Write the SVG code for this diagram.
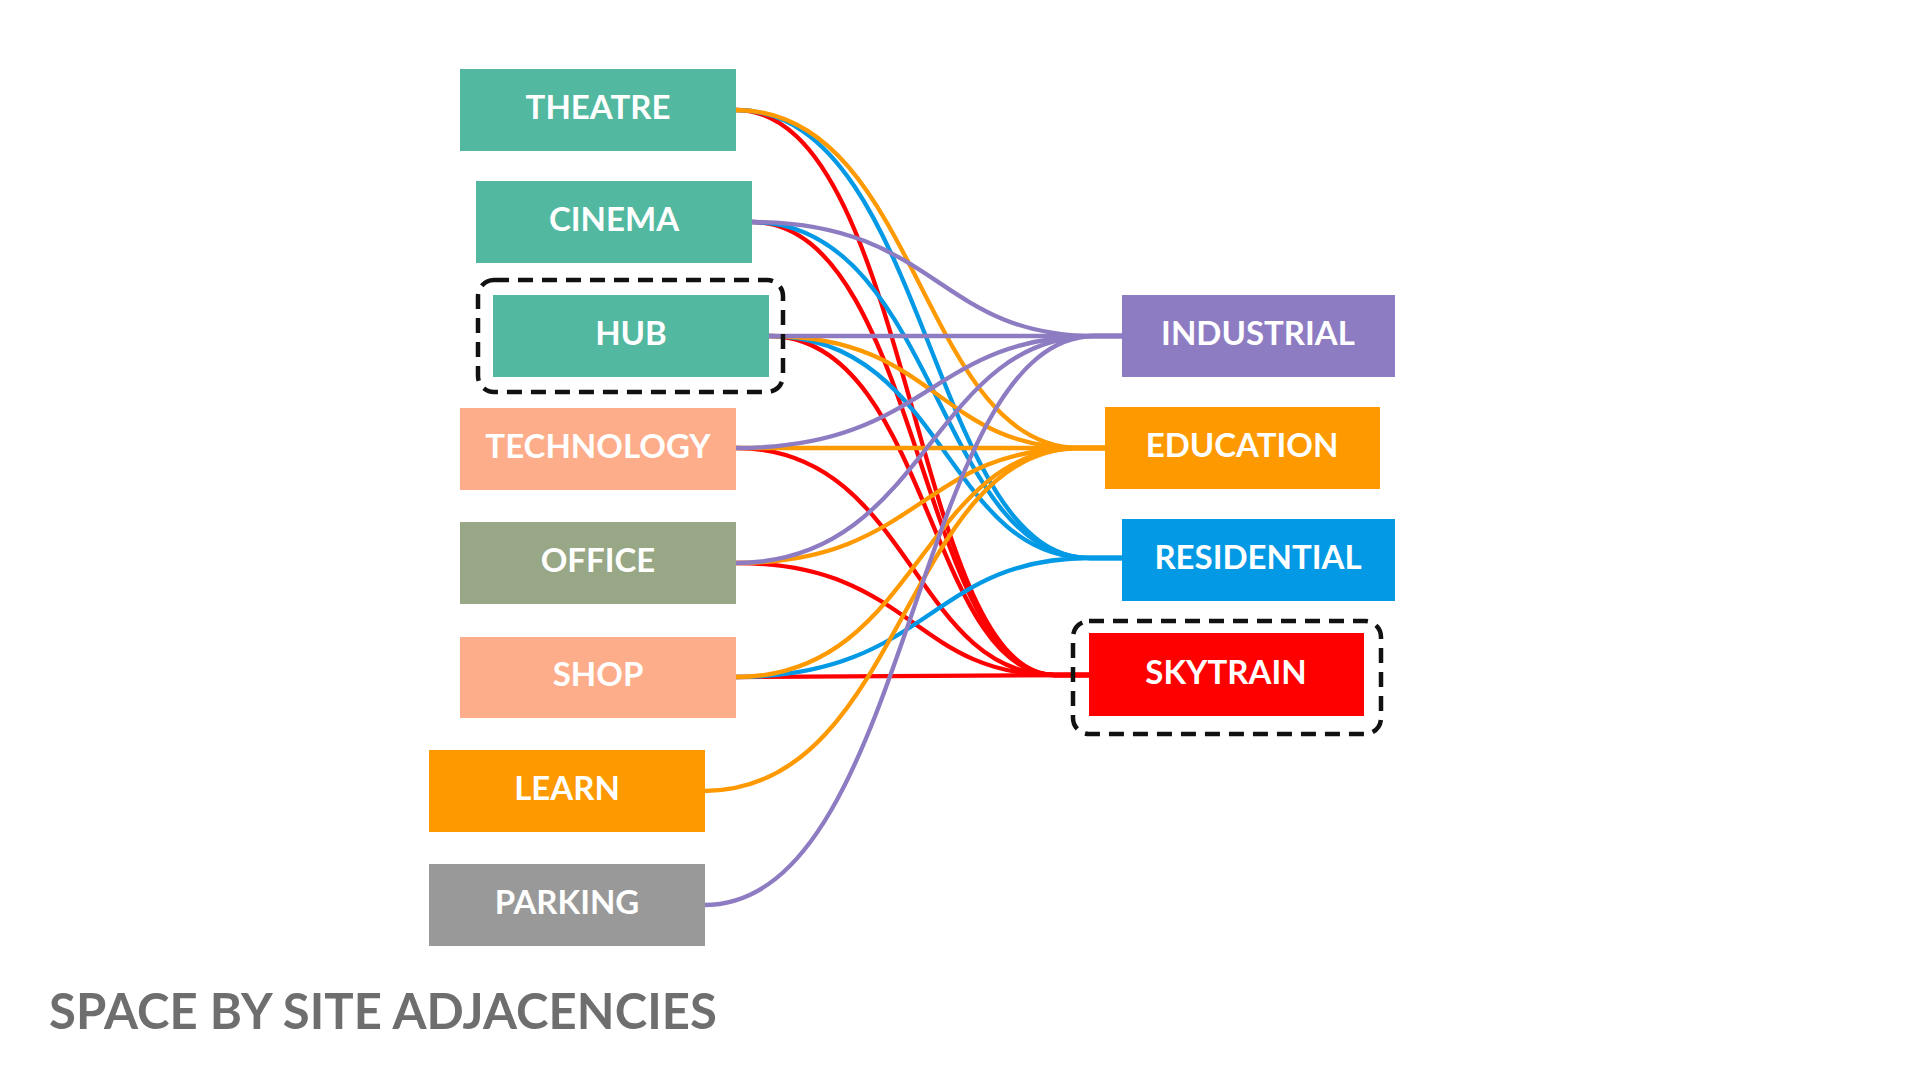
<svg xmlns="http://www.w3.org/2000/svg" width="1920" height="1080" viewBox="0 0 1920 1080">
<style>
.lbl{font-family:Lato,"Open Sans","Liberation Sans",sans-serif;font-weight:700;font-size:33px;fill:#ffffff;text-anchor:middle}
.title{font-family:Lato,"Open Sans","Liberation Sans",sans-serif;font-weight:700;font-size:49px;fill:#6e6e6e}
.dash{fill:none;stroke:#111;stroke-width:4.5;stroke-dasharray:15 9}
.c{fill:none;stroke-width:4.3}
.r{stroke:#ff0000}.b{stroke:#0399e5}.o{stroke:#ff9900}.p{stroke:#8e7cc3}
</style>
<rect width="1920" height="1080" fill="#ffffff"/>
<g id="connectors">
<path class="c r" d="M736 110 C912 110 912 675 1055 675 L1089 675"/>
<path class="c r" d="M752 222 C920 222 920 675 1055 675 L1089 675"/>
<path class="c r" d="M769 336 C929 336 929 675 1055 675 L1089 675"/>
<path class="c r" d="M736 448 C912 448 912 675 1055 675 L1089 675"/>
<path class="c r" d="M736 563 C912 563 912 675 1055 675 L1089 675"/>
<path class="c r" d="M736 677 L1089 675"/>
<path class="c b" d="M736 110 C929 110 929 558 1090 558 L1122 558"/>
<path class="c b" d="M752 222 C937 222 937 558 1090 558 L1122 558"/>
<path class="c b" d="M769 336 C945 336 945 558 1090 558 L1122 558"/>
<path class="c b" d="M736 677 C929 677 929 558 1090 558 L1122 558"/>
<path class="c o" d="M736 110 C920 110 920 448 1080 448 L1105 448"/>
<path class="c o" d="M769 336 C937 336 937 448 1080 448 L1105 448"/>
<path class="c o" d="M736 448 L1105 448"/>
<path class="c o" d="M736 563 C920 563 920 448 1080 448 L1105 448"/>
<path class="c o" d="M736 677 C920 677 920 448 1080 448 L1105 448"/>
<path class="c o" d="M704 791 C904 791 904 448 1080 448 L1105 448"/>
<path class="c p" d="M752 222 C937 222 937 336 1095 336 L1122 336"/>
<path class="c p" d="M769 336 L1122 336"/>
<path class="c p" d="M736 448 C929 448 929 336 1095 336 L1122 336"/>
<path class="c p" d="M736 563 C929 563 929 336 1095 336 L1122 336"/>
<path class="c p" d="M704 905 C913 905 913 336 1095 336 L1122 336"/>
</g>
<g id="node-theatre"><rect x="460" y="69" width="276" height="82" fill="#52b8a0"/><text class="lbl" x="598" y="119">THEATRE</text></g>
<g id="node-cinema"><rect x="476" y="181" width="276" height="82" fill="#52b8a0"/><text class="lbl" x="614" y="231">CINEMA</text></g>
<g id="node-hub"><rect class="dash" x="478" y="280" width="305" height="112" rx="16"/><rect x="493" y="295" width="276" height="82" fill="#52b8a0"/><text class="lbl" x="631" y="345">HUB</text></g>
<g id="node-technology"><rect x="460" y="408" width="276" height="82" fill="#fdad8a"/><text class="lbl" x="598" y="458">TECHNOLOGY</text></g>
<g id="node-office"><rect x="460" y="522" width="276" height="82" fill="#98a886"/><text class="lbl" x="598" y="572">OFFICE</text></g>
<g id="node-shop"><rect x="460" y="637" width="276" height="81" fill="#fdad8a"/><text class="lbl" x="598" y="686">SHOP</text></g>
<g id="node-learn"><rect x="429" y="750" width="276" height="82" fill="#ff9900"/><text class="lbl" x="567" y="800">LEARN</text></g>
<g id="node-parking"><rect x="429" y="864" width="276" height="82" fill="#999999"/><text class="lbl" x="567" y="914">PARKING</text></g>
<g id="node-industrial"><rect x="1122" y="295" width="273" height="82" fill="#8e7cc3"/><text class="lbl" x="1258" y="345">INDUSTRIAL</text></g>
<g id="node-education"><rect x="1105" y="407" width="275" height="82" fill="#ff9900"/><text class="lbl" x="1242" y="457">EDUCATION</text></g>
<g id="node-residential"><rect x="1122" y="519" width="273" height="82" fill="#0399e5"/><text class="lbl" x="1258" y="569">RESIDENTIAL</text></g>
<g id="node-skytrain"><rect class="dash" x="1073" y="621" width="308" height="113" rx="16"/><rect x="1089" y="633" width="275" height="83" fill="#ff0000"/><text class="lbl" x="1226" y="684">SKYTRAIN</text></g>
<text class="title" x="49" y="1029" textLength="668" lengthAdjust="spacing">SPACE BY SITE ADJACENCIES</text>
</svg>
